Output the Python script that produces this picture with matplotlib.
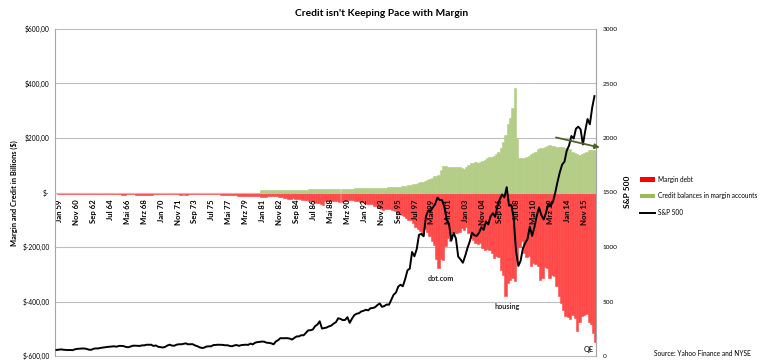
import numpy as np
import pandas as pd
import matplotlib
matplotlib.use("Agg")
import matplotlib.pyplot as plt
from matplotlib.patches import Patch
from matplotlib.lines import Line2D
import matplotlib.transforms as mtransforms

plt.rcParams['font.family'] = ['Lato', 'DejaVu Sans']

# ---------------- data (quarterly, Jan 1959 .. Apr 2017) ----------------
quarters = pd.date_range('1959-01-01', '2017-04-01', freq='QS')

sp500 = [
    55.6, 57.6, 60.5, 57.5,   55.6, 54.4, 55.5, 53.4,   61.8, 65.3, 66.8, 68.6,
    68.8, 65.2, 58.2, 56.5,   66.2, 69.8, 69.1, 74.0,   77.0, 79.5, 83.2, 84.9,
    87.6, 89.1, 85.3, 92.4,   92.9, 91.1, 83.6, 80.2,   86.6, 94.0, 94.8, 93.3,
    92.2, 97.5, 97.7, 103.4,  103.0, 103.7, 91.8, 97.1, 85.0, 81.5, 78.0, 83.3,
    95.9, 103.9, 95.6, 94.2,  103.9, 107.7, 107.4, 111.6, 116.0, 106.9, 108.2, 108.3,
    96.6, 90.3, 79.3, 73.9,   76.9, 87.3, 88.8, 89.0,   100.9, 101.6, 103.4, 102.9,
    102.0, 98.4, 98.9, 92.3,  89.3, 97.0, 100.7, 93.2,  99.9, 101.8, 103.8, 101.8,
    114.2, 106.3, 121.7, 127.5, 129.5, 132.8, 130.9, 121.9, 120.4, 116.4, 107.1, 133.7,
    145.3, 164.4, 162.6, 163.6, 163.4, 160.1, 150.7, 166.1, 179.6, 179.8, 190.9, 189.8,
    211.8, 235.5, 236.1, 243.0, 274.1, 288.4, 318.7, 251.8, 257.1, 261.3, 272.0, 278.9,
    297.5, 309.6, 346.1, 340.4, 329.1, 330.8, 356.2, 304.0, 343.9, 375.3, 387.8, 392.5,
    408.8, 414.9, 424.2, 418.7, 438.8, 440.2, 448.1, 467.8, 481.6, 450.9, 458.3, 472.4,
    470.4, 514.7, 562.1, 581.5, 636.0, 654.2, 639.9, 705.3, 786.2, 801.3, 954.3, 914.6,
    980.3, 1111.8, 1120.7, 1098.7, 1279.6, 1335.2, 1328.7, 1362.9,
    1394.5, 1452.4, 1430.8, 1429.4, 1366.0, 1249.5, 1211.2, 1059.8,
    1130.2, 1076.9, 911.6, 885.8, 855.7, 916.9, 990.3, 1050.7,
    1131.1, 1107.3, 1101.7, 1130.2, 1181.3, 1156.9, 1234.2, 1207.0,
    1280.1, 1310.6, 1276.7, 1377.9, 1438.2, 1482.4, 1455.3, 1549.4,
    1378.6, 1385.6, 1267.4, 968.8, 825.9, 872.8, 987.5, 1036.2,
    1073.9, 1186.7, 1101.6, 1183.3, 1286.1, 1363.6, 1292.3, 1253.3,
    1312.4, 1397.9, 1379.3, 1412.2, 1498.1, 1597.6, 1685.7, 1756.5,
    1782.6, 1883.9, 1931.0, 2018.1, 1995.0, 2085.5, 2103.8, 2079.4,
    1940.2, 2065.3, 2173.6, 2126.2, 2278.9, 2384.2,
]

margin_debt = [
    -4.4, -4.5, -4.6, -4.5,   -4.4, -4.3, -4.2, -4.3,   -4.5, -4.8, -5.0, -5.2,
    -5.3, -5.0, -4.6, -4.8,   -5.2, -5.6, -6.0, -6.8,   -7.0, -7.0, -6.9, -6.9,
    -7.1, -7.2, -7.1, -7.2,   -7.4, -7.5, -7.2, -6.8,   -6.7, -7.0, -7.5, -8.0,
    -8.5, -8.7, -8.6, -8.8,   -8.5, -7.9, -7.2, -6.8,   -5.9, -5.4, -4.9, -4.6,
    -4.9, -5.5, -6.2, -6.6,   -7.3, -7.9, -8.2, -8.3,   -7.8, -7.2, -6.6, -6.1,
    -5.6, -5.2, -4.6, -3.9,   -4.0, -4.3, -5.0, -5.5,   -6.0, -6.7, -7.3, -7.9,
    -8.3, -9.0, -9.6, -9.9,   -9.9, -10.4, -11.3, -11.7, -11.3, -11.6, -11.9, -12.0,
    -11.8, -11.2, -12.4, -14.0, -14.7, -15.1, -14.9, -14.3, -13.3, -12.6, -11.6, -12.8,
    -14.8, -16.6, -20.2, -22.0, -23.0, -22.5, -21.9, -22.4, -23.3, -24.2, -26.0, -27.5,
    -28.4, -31.7, -32.7, -34.6, -36.8, -38.3, -40.6, -44.2, -31.9, -32.4, -32.6, -32.8,
    -32.8, -33.0, -33.4, -34.5, -30.4, -29.6, -29.1, -27.2, -28.9, -31.0, -32.8, -34.3,
    -36.1, -38.2, -41.6, -41.5, -43.5, -47.8, -51.0, -56.9, -60.2, -63.2, -61.0, -62.0,
    -61.0, -62.8, -67.4, -73.4, -77.4, -83.8, -86.1, -95.0, -99.9, -100.9, -113.0, -126.1,
    -132.9, -140.0, -156.8, -132.5, -143.5, -161.0, -176.2, -191.0,
    -243.5, -278.5, -245.7, -247.4, -195.9, -166.3, -177.0, -146.3,
    -146.8, -147.6, -146.6, -130.0, -136.0, -128.4, -148.6, -166.5,
    -173.7, -184.5, -189.3, -184.0, -203.8, -212.4, -207.2, -212.0,
    -221.7, -239.1, -234.2, -236.0, -285.6, -302.0, -381.4, -331.4,
    -322.3, -314.2, -323.6, -247.4, -201.8, -176.4, -220.5, -235.8,
    -233.9, -269.6, -257.0, -261.6, -269.5, -320.1, -312.8, -273.9,
    -275.5, -313.8, -301.0, -308.1, -342.4, -379.5, -404.4, -432.5,
    -452.0, -456.8, -463.6, -450.4, -460.9, -507.2, -477.0, -454.4,
    -449.4, -446.1, -474.1, -481.1, -515.3, -549.1,
]

credit_balances = [0.0] * 88 + [
    8, 8, 8, 8,       8, 8, 8, 9,       9, 9, 9, 10,      10, 10, 10, 10,
    10, 10, 11, 11,   11, 12, 12, 12,   12, 13, 13, 14,   13, 13, 13, 13,
    13, 13, 13, 14,   14, 14, 14, 14,   14, 15, 15, 15,   15, 16, 16, 16,
    17, 17, 18, 18,   18, 18, 18, 19,   19, 19, 20, 21,   22, 23, 24, 25,
    27, 28, 30, 33,   36, 38, 40, 42,   46, 50, 54, 60,   62, 66, 82, 98,
    96, 95, 93, 95,   92, 94, 92, 90,   88, 92, 100, 108, 110, 112, 108, 112,
    115, 118, 125, 130, 130, 135, 140, 150, 165, 185, 210, 250,
    275, 310, 385, 200, 125, 125, 128, 131, 135, 140, 145, 150,
    158, 163, 165, 168, 172, 175, 172, 170, 168, 168, 168, 167,
    165, 160, 158, 150, 145, 140, 138, 140, 145, 150, 155, 156,
    156, 157,
]

tick_labels = ["Jan 59", "Nov 60", "Sep 62", "Jul 64", "Mai 66", "Mrz 68", "Jan 70",
               "Nov 71", "Sep 73", "Jul 75", "Mai 77", "Mrz 79", "Jan 81", "Nov 82",
               "Sep 84", "Jul 86", "Mai 88", "Mrz 90", "Jan 92", "Nov 93", "Sep 95",
               "Jul 97", "Mai 99", "Mrz 01", "Jan 03", "Nov 04", "Sep 06", "Jul 08",
               "Mai 10", "Mrz 12", "Jan 14", "Nov 15"]
tick_dates = pd.date_range('1959-01-01', periods=len(tick_labels), freq='22MS')

left_ticks = [-600, -400, -200, 0, 200, 400, 600]
left_tick_labels = ["$-600,00", "$-400,00", "$-200,00", "$-", "$200,00", "$400,00", "$600,00"]
right_ticks = [0, 500, 1000, 1500, 2000, 2500, 3000]

# ---------------- figure ----------------
W, H = 768, 363
fig = plt.figure(figsize=(W / 100, H / 100), dpi=100)
ax = fig.add_axes([55 / W, 1 - 356 / H, (596 - 55) / W, (356 - 29) / H])

red = '#FF4848'
green = '#B4CD86'
grid_c = '#BEBEBE'

for y in left_ticks:
    ax.axhline(y, color=grid_c, lw=0.8, zorder=0.5, clip_on=False)

ax.bar(quarters, margin_debt, width=91, align='edge', color=red,
       edgecolor=red, linewidth=0.4, zorder=1)
ax.bar(quarters, credit_balances, width=91, align='edge', color=green,
       edgecolor=green, linewidth=0.4, zorder=1)

ax.set_xlim(pd.Timestamp('1958-11-01'), pd.Timestamp('2017-06-01'))
ax.set_ylim(-600, 600)
ax.set_yticks(left_ticks)
ax.set_yticklabels(left_tick_labels, fontsize=4.8)
ax.tick_params(axis='y', length=0, pad=4)

ax.spines['bottom'].set_position(('data', 0))
ax.spines['bottom'].set_color(grid_c)
ax.spines['top'].set_visible(False)
ax.spines['left'].set_color('#A6A6A6')
ax.spines['right'].set_color('#A6A6A6')
ax.set_xticks(tick_dates)
ax.set_xticklabels(tick_labels, rotation=90, fontsize=5.6, fontweight='bold', va='top', ha='center')
ax.tick_params(axis='x', length=0, pad=5)
offset = mtransforms.ScaledTranslation(3 / 100, 0, fig.dpi_scale_trans)
for lab in ax.get_xticklabels():
    lab.set_transform(lab.get_transform() + offset)

ax2 = ax.twinx()
ax2.plot(quarters, sp500, color='black', lw=1.4)
ax2.set_ylim(0, 3000)
ax2.set_yticks(right_ticks)
ax2.set_yticklabels([str(t) for t in right_ticks], fontsize=4.6)
ax2.tick_params(axis='y', length=0, pad=5)
for s in ['top', 'bottom', 'left']:
    ax2.spines[s].set_visible(False)
ax2.spines['right'].set_color('#A6A6A6')
ax2.set_xlim(ax.get_xlim())

# annotations
ax.text(pd.Timestamp('2000-09-01'), -316, 'dot.com', fontsize=5.2, fontweight='bold',
        color='#262626', ha='center', va='center', zorder=3)
ax.text(pd.Timestamp('2007-10-01'), -418, 'housing', fontsize=5.2, fontweight='bold',
        color='#262626', ha='center', va='center', zorder=3)
ax.text(pd.Timestamp('2016-08-01'), -576, 'QE', fontsize=5.2, fontweight='bold',
        color='#262626', ha='center', va='center', zorder=3)
ax2.annotate('', xy=(pd.Timestamp('2017-11-01'), 1500 + 165 * 2.5),
             xytext=(pd.Timestamp('2013-02-01'), 1500 + 202 * 2.5),
             arrowprops=dict(arrowstyle='-|>', color='#4F6228', lw=1.3,
                             mutation_scale=7, shrinkA=0, shrinkB=0),
             annotation_clip=False)

# titles and labels
fig.text(382 / W, 1 - 13 / H, "Credit isn't Keeping Pace with Margin", ha='center', va='center',
         fontsize=7.4, fontweight='bold')
fig.text(14 / W, 1 - 193 / H, "Margin and Credit in Billions ($)", rotation=90,
         ha='center', va='center', fontsize=5.4, fontweight='bold')
fig.text(627 / W, 1 - 192 / H, "S&P 500", rotation=90, ha='center', va='center',
         fontsize=6, fontweight='bold')
fig.text(702 / W, 1 - 354 / H, "Source: Yahoo Finance and NYSE", ha='center', va='center',
         fontsize=4.8)

handles = [Patch(facecolor='#FF0000', edgecolor='none', label='Margin debt'),
           Patch(facecolor='#9BBB59', edgecolor='none', label='Credit balances in margin accounts'),
           Line2D([0], [0], color='black', lw=1.4, label='S&P 500')]
fig.legend(handles=handles, loc='upper left', bbox_to_anchor=(640 / W, 1 - 176 / H),
           frameon=False, fontsize=4.7, handlelength=2.3, handleheight=0.7,
           handletextpad=0.5, labelspacing=1.45, borderpad=0, borderaxespad=0)

fig.savefig('out.png', dpi=100)
